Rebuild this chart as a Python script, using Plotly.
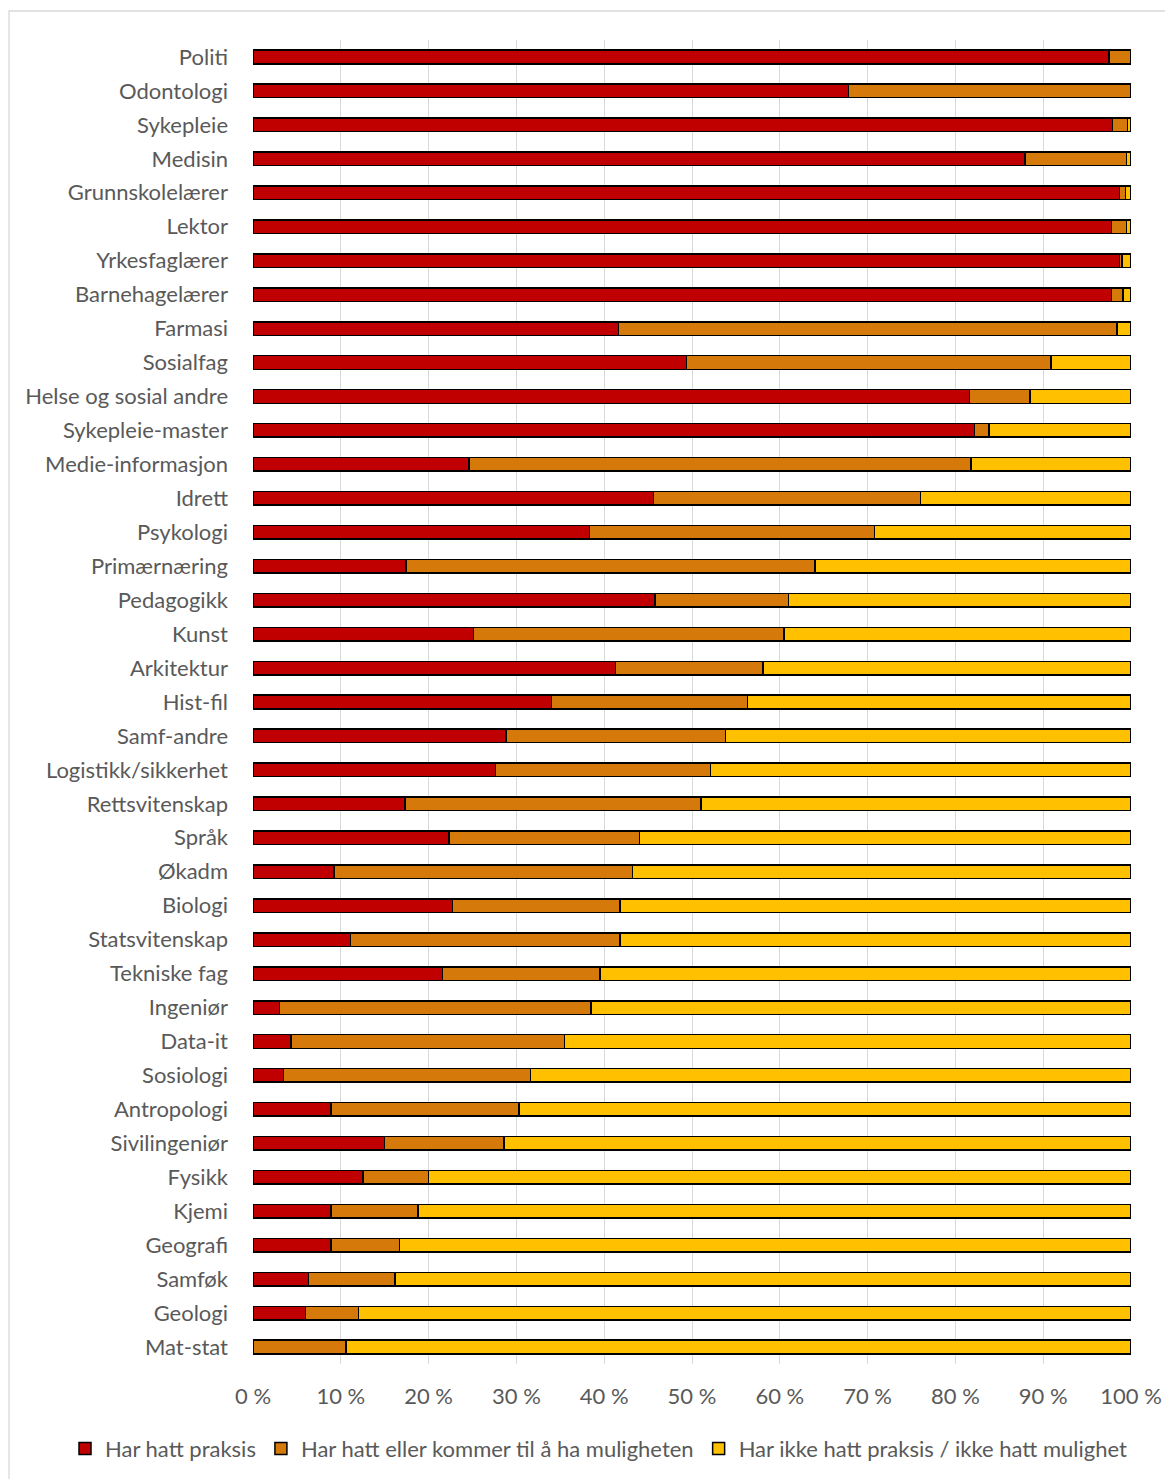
import plotly.graph_objects as go

categories = ["Politi", "Odontologi", "Sykepleie", "Medisin", "Grunnskolelærer", "Lektor",
              "Yrkesfaglærer", "Barnehagelærer", "Farmasi", "Sosialfag", "Helse og sosial andre",
              "Sykepleie-master", "Medie-informasjon", "Idrett", "Psykologi", "Primærnæring",
              "Pedagogikk", "Kunst", "Arkitektur", "Hist-fil", "Samf-andre", "Logistikk/sikkerhet",
              "Rettsvitenskap", "Språk", "Økadm", "Biologi", "Statsvitenskap", "Tekniske fag",
              "Ingeniør", "Data-it", "Sosiologi", "Antropologi", "Sivilingeniør", "Fysikk",
              "Kjemi", "Geografi", "Samføk", "Geologi", "Mat-stat"]

# cumulative boundaries (percent)
har_hatt = [97.5, 67.8, 97.9, 87.9, 98.7, 97.8, 98.7, 97.8, 41.6, 49.4, 81.6,
            82.2, 24.6, 45.6, 38.3, 17.4, 45.8, 25.1, 41.3, 34.0, 28.8, 27.6,
            17.3, 22.3, 9.2, 22.7, 11.1, 21.6, 3.0, 4.3, 3.5, 8.9, 15.0, 12.5,
            8.9, 8.9, 6.3, 6.0, 0.0]
kum_mulighet = [100.0, 100.0, 99.6, 99.5, 99.4, 99.5, 99.0, 99.1, 98.4, 90.9, 88.5,
                83.8, 81.8, 76.0, 70.8, 64.0, 61.0, 60.5, 58.1, 56.3, 53.8, 52.1,
                51.0, 44.0, 43.2, 41.8, 41.8, 39.5, 38.5, 35.5, 31.6, 30.3, 28.6, 20.0,
                18.8, 16.7, 16.2, 12.0, 10.6]

mulighet = [round(k - h, 1) for k, h in zip(kum_mulighet, har_hatt)]
ikke = [round(100 - k, 1) for k in kum_mulighet]

series_names = ["Har hatt praksis", "Har hatt eller kommer til å ha muligheten",
                "Har ikke hatt praksis / ikke hatt mulighet"]
colors = ["#C00000", "#D4790A", "#FFC000"]
tick_vals = [0, 10, 20, 30, 40, 50, 60, 70, 80, 90, 100]
tick_text = [f"{v} %" for v in tick_vals]

font_family = "Lato, 'Open Sans', sans-serif"
text_color = "#595959"

fig = go.Figure()
for name, vals, col in zip(series_names, [har_hatt, mulighet, ikke], colors):
    fig.add_trace(go.Bar(
        y=categories, x=vals, name=name, orientation="h",
        marker=dict(color=col, line=dict(color="#000000", width=1.5)),
        width=0.4,
    ))

W, H = 1165, 1471
fig.update_layout(
    barmode="stack",
    width=W, height=H,
    margin=dict(l=245, r=42, t=32, b=115, autoexpand=False),
    paper_bgcolor="white", plot_bgcolor="white",
    font=dict(family=font_family, size=22, color=text_color),
    legend=dict(orientation="h", x=(57 - 245) / 878, xanchor="left",
                y=-0.064, yanchor="middle",
                font=dict(size=22, color=text_color), traceorder="normal",
                itemwidth=30, tracegroupgap=0),
    showlegend=True,
)
fig.update_xaxes(range=[0, 100], tickvals=tick_vals, ticktext=tick_text,
                 showgrid=True, gridcolor="#D9D9D9", gridwidth=1.3,
                 zeroline=False, showline=False, ticks="",
                 ticklabelstandoff=17, fixedrange=True)
fig.update_yaxes(categoryorder="array", categoryarray=categories, autorange="reversed",
                 showgrid=False, showline=False, ticks="", ticklabelstandoff=24)

fig.add_shape(type="rect", xref="paper", yref="paper",
              x0=(1 - 245) / 878, x1=(1200 - 245) / 878,
              y0=(1324 + 32 - 1500) / 1324, y1=(1324 + 32 - 3) / 1324,
              line=dict(color="#D9D9D9", width=1.3), fillcolor="rgba(0,0,0,0)", layer="above")

fig.write_html("out.html")
